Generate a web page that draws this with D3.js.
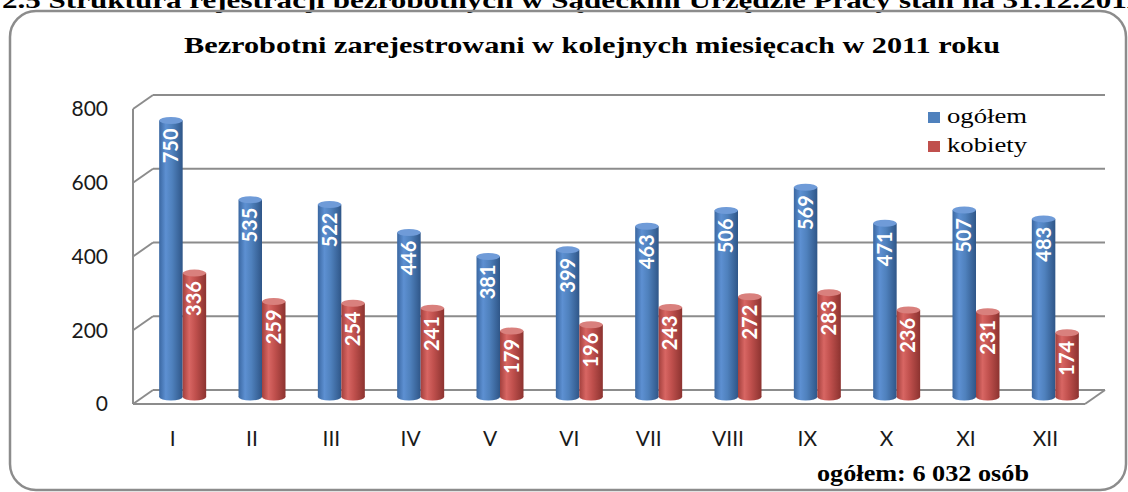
<!DOCTYPE html>
<html>
<head>
<meta charset="utf-8">
<script src="https://cdn.jsdelivr.net/npm/d3@7"></script>
<style>
  body { margin: 0; background: #fff; }
  svg { display: block; }
</style>
</head>
<body>
<svg width="1128" height="492"></svg>
<script>
// data
var months = ['I','II','III','IV','V','VI','VII','VIII','IX','X','XI','XII'];
var ogolem = [750, 535, 522, 446, 381, 399, 463, 506, 569, 471, 507, 483];
var kobiety = [336, 259, 254, 241, 179, 196, 243, 272, 283, 236, 231, 174];
var yTicks = [0, 200, 400, 600, 800];
var seriesNames = ['ogółem', 'kobiety'];

var svg = d3.select('svg');
var defs = svg.append('defs');

// cylinder gradients
function cylGrad(id, stops){
    var g = defs.append('linearGradient').attr('id', id)
        .attr('x1', '0%').attr('x2', '100%').attr('y1', '0%').attr('y2', '0%');
    stops.forEach(function(s){
        g.append('stop').attr('offset', s[0]).attr('stop-color', s[1]);
    });
}
cylGrad('gBlue', [['0%','#3a67a1'],['28%','#5d90d2'],['55%','#4f81bd'],['100%','#2f5688']]);
cylGrad('gRed', [['0%','#a3403d'],['28%','#d86663'],['55%','#c0504d'],['100%','#8c3330']]);
var capColor = ['#6f9bd8', '#d9807d'];
var fills = ['url(#gBlue)', 'url(#gRed)'];

// heading above the frame (cut off at the top, like in the source)
svg.append('text')
    .attr('x', 2).attr('y', 8)
    .attr('font-family', 'Liberation Serif')
    .attr('font-weight', 'bold')
    .attr('font-size', 24)
    .attr('textLength', 1165)
    .attr('lengthAdjust', 'spacingAndGlyphs')
    .text('2.5  Struktura rejestracji bezrobotnych w Sądeckim Urzędzie Pracy stan na 31.12.2011 r.');

// frame
svg.append('rect')
    .attr('x', 10).attr('y', 11).attr('width', 1116).attr('height', 479)
    .attr('rx', 26).attr('ry', 26)
    .attr('fill', 'none').attr('stroke', '#8c8c8c').attr('stroke-width', 2.5);

svg.append('text')
    .attr('x', 184).attr('y', 53)
    .attr('font-family', 'Liberation Serif')
    .attr('font-weight', 'bold')
    .attr('font-size', 23)
    .attr('textLength', 816)
    .attr('lengthAdjust', 'spacingAndGlyphs')
    .text('Bezrobotni zarejestrowani w kolejnych miesięcach  w 2011 roku');

// scales
var depthX = 20, depthY = 14;
var x = d3.scaleBand().domain(months).range([133, 1085]);
var yBack = d3.scaleLinear().domain([0, 800]).range([390, 95]);
function yFront(v){ return yBack(v) + depthY; }
function yMid(v){ return yBack(v) + depthY / 2; }

var grid = svg.append('g').attr('stroke', '#8c8c8c').attr('stroke-width', 2).attr('fill', 'none');
yTicks.forEach(function(t){
    grid.append('line')
        .attr('x1', 133 + depthX).attr('x2', 1085 + depthX)
        .attr('y1', yBack(t)).attr('y2', yBack(t));
    grid.append('line')
        .attr('x1', 133).attr('y1', yFront(t))
        .attr('x2', 133 + depthX).attr('y2', yBack(t));
});
grid.append('line').attr('x1', 133).attr('x2', 133)
    .attr('y1', yFront(800)).attr('y2', yFront(0));
grid.append('line').attr('x1', 133).attr('x2', 1085)
    .attr('y1', yFront(0)).attr('y2', yFront(0));
grid.append('line').attr('x1', 1085).attr('y1', yFront(0))
    .attr('x2', 1085 + depthX).attr('y2', yBack(0));

// y tick labels
svg.append('g').selectAll('text').data(yTicks).enter().append('text')
    .attr('x', 108)
    .attr('y', function(d){ return yFront(d); })
    .attr('dy', '0.35em')
    .attr('text-anchor', 'end')
    .attr('font-family', 'Lato')
    .attr('font-size', 21)
    .attr('fill', '#1a1a1a')
    .text(function(d){ return d; });

// x labels
svg.append('g').selectAll('text').data(months).enter().append('text')
    .attr('x', function(d){ return x(d) + x.bandwidth() / 2; })
    .attr('y', 446)
    .attr('text-anchor', 'middle')
    .attr('font-family', 'Lato')
    .attr('font-size', 21)
    .attr('fill', '#1a1a1a')
    .text(function(d){ return d; });

// cylinders
var barW = 23.5, ry = 3.5;
[ogolem, kobiety].forEach(function(vals, s){
    var g = svg.append('g');
    var items = g.selectAll('g').data(vals).enter().append('g');
    function x0(d, i){ return x(months[i]) + x.bandwidth() / 2 + depthX / 2 - barW + s * barW; }
    items.append('ellipse')
        .attr('cx', function(d, i){ return x0(d, i) + barW / 2; })
        .attr('cy', yMid(0))
        .attr('rx', barW / 2).attr('ry', ry)
        .attr('fill', fills[s]);
    items.append('rect')
        .attr('x', x0)
        .attr('y', function(d){ return yMid(d); })
        .attr('width', barW)
        .attr('height', function(d){ return yMid(0) - yMid(d); })
        .attr('fill', fills[s]);
    items.append('ellipse')
        .attr('cx', function(d, i){ return x0(d, i) + barW / 2; })
        .attr('cy', function(d){ return yMid(d); })
        .attr('rx', barW / 2).attr('ry', ry)
        .attr('fill', capColor[s]);
    items.append('text')
        .attr('transform', function(d, i){
            return 'translate(' + (x0(d, i) + barW / 2 + 7) + ',' + (yMid(d) + 8) + ') rotate(-90)';
        })
        .attr('text-anchor', 'end')
        .attr('font-family', 'Lato')
        .attr('font-weight', 'bold')
        .attr('font-size', 20)
        .attr('fill', '#fff')
        .text(function(d){ return d; });
});

// legend
var legend = svg.append('g').attr('transform', 'translate(928,112)');
seriesNames.forEach(function(name, i){
    legend.append('rect')
        .attr('x', 0).attr('y', i * 29)
        .attr('width', 12).attr('height', 11)
        .attr('fill', ['#4f81bd', '#c0504d'][i]);
    legend.append('text')
        .attr('x', 19).attr('y', i * 29 + 11)
        .attr('font-family', 'Liberation Serif')
        .attr('font-size', 22)
        .attr('textLength', 80)
        .attr('lengthAdjust', 'spacingAndGlyphs')
        .text(name);
});

// total
var total = d3.sum(ogolem);
svg.append('text')
    .attr('x', 817).attr('y', 481)
    .attr('font-family', 'Liberation Serif')
    .attr('font-weight', 'bold')
    .attr('font-size', 24)
    .attr('textLength', 212)
    .attr('lengthAdjust', 'spacingAndGlyphs')
    .text('ogółem: ' + d3.format(',')(total).replace(',', ' ') + ' osób');
</script>
</body>
</html>
